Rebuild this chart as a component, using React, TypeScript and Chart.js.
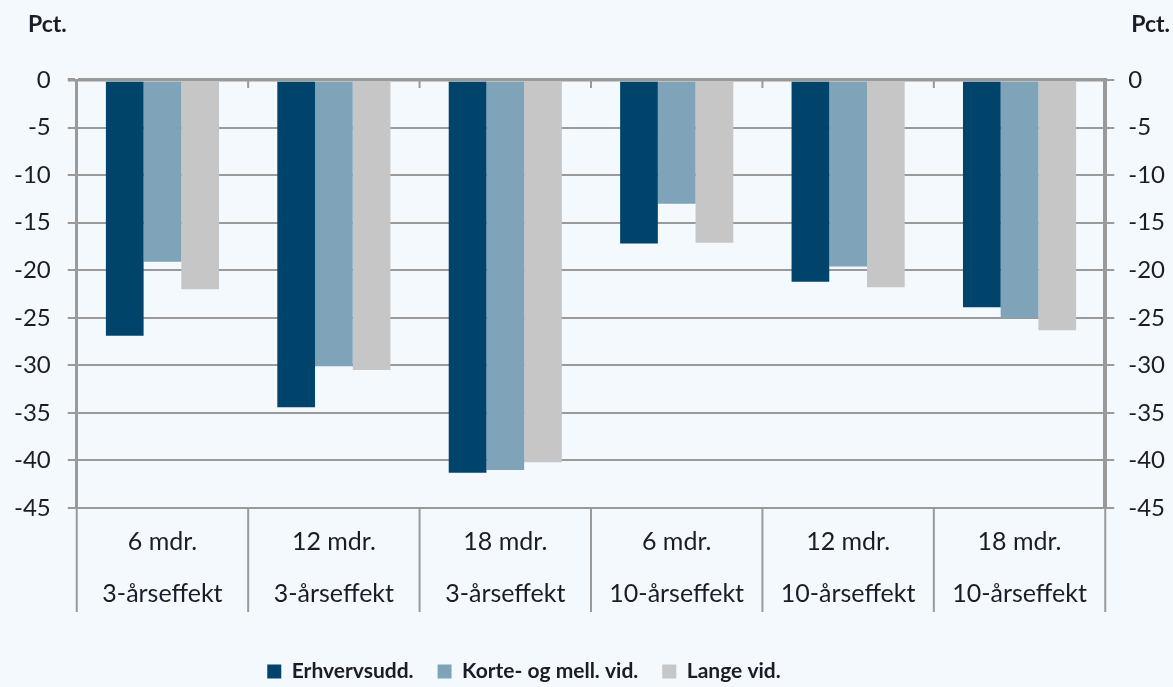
import React, { useEffect, useRef } from "react";
import { Chart, registerables } from "chart.js";

Chart.register(...registerables);

const periods = ["6 mdr.", "12 mdr.", "18 mdr.", "6 mdr.", "12 mdr.", "18 mdr."];
const effects = ["3-årseffekt", "3-årseffekt", "3-årseffekt", "10-årseffekt", "10-årseffekt", "10-årseffekt"];
const seriesNames = ["Erhvervsudd.", "Korte- og mell. vid.", "Lange vid."];
const erhvervsudd = [-26.9, -34.4, -41.3, -17.2, -21.2, -23.9];
const korteMell = [-19.1, -30.1, -41.0, -13.0, -19.6, -25.0];
const langeVid = [-22.0, -30.5, -40.2, -17.1, -21.8, -26.3];
const yMin = -45;
const yMax = 0;
const yStep = 5;
const unitLabel = "Pct.";

const BG = "#F4F9FD";
const TEXT = "#1c1c28";
const GRID = "#9a9a9a";
const FONT = "Lato, 'Open Sans', sans-serif";

const extras = {
  id: "extras",
  afterLayout(chart: any) {
    const lg = chart.legend;
    if (lg) {
      lg.left -= 64;
      lg.right -= 64;
      lg.top += 9;
      lg.bottom += 9;
    }
  },
  beforeDraw(chart: any) {
    const { ctx, width, height } = chart;
    ctx.save();
    ctx.fillStyle = BG;
    ctx.fillRect(0, 0, width, height);
    ctx.restore();
  },
  afterDraw(chart: any) {
    const { ctx, chartArea } = chart;
    const xs = chart.scales.x;
    const n = xs.getLabels().length;
    ctx.save();
    ctx.strokeStyle = GRID;
    ctx.lineWidth = 2;
    for (let i = 0; i <= n; i++) {
      let x: number;
      if (i === 0) x = chartArea.left;
      else if (i === n) x = chartArea.right;
      else x = (xs.getPixelForValue(i - 1) + xs.getPixelForValue(i)) / 2;
      ctx.beginPath();
      ctx.moveTo(x, chartArea.bottom);
      ctx.lineTo(x, chartArea.bottom + 104);
      ctx.stroke();
      if (i > 0 && i < n) {
        ctx.beginPath();
        ctx.moveTo(x, chartArea.top);
        ctx.lineTo(x, chartArea.top + 8);
        ctx.stroke();
      }
    }
    ctx.fillStyle = TEXT;
    ctx.font = `bold 23px ${FONT}`;
    ctx.textBaseline = "middle";
    ctx.textAlign = "left";
    ctx.fillText(unitLabel, 28, 25);
    ctx.textAlign = "right";
    ctx.fillText(unitLabel, chart.width - 3, 25);
    ctx.restore();
  },
};

export default function App() {
  const ref = useRef<HTMLCanvasElement | null>(null);
  useEffect(() => {
    document.body.style.margin = "0";
    document.body.style.background = BG;
    if (!ref.current) return;
    const labels = periods.map((p, i) => [p, effects[i]]);
    const yTickFont = { family: FONT, size: 24 };
    const chart = new Chart(ref.current, {
      type: "bar",
      data: {
        labels,
        datasets: [
          { label: seriesNames[0], data: erhvervsudd, backgroundColor: "#00446C", yAxisID: "y" },
          { label: seriesNames[1], data: korteMell, backgroundColor: "#7FA3B9", yAxisID: "y" },
          { label: seriesNames[2], data: langeVid, backgroundColor: "#C6C6C6", yAxisID: "y" },
        ],
      },
      options: {
        animation: false,
        responsive: true,
        maintainAspectRatio: false,
        layout: { padding: { top: 80, left: -3, right: -6, bottom: 4 } },
        datasets: { bar: { barPercentage: 1, categoryPercentage: 0.66 } },
        plugins: {
          tooltip: { enabled: false },
          legend: {
            position: "bottom",
            labels: {
              color: TEXT,
              boxWidth: 14,
              boxHeight: 14,
              padding: 24,
              font: { family: FONT, size: 21, weight: "bold" },
            },
          },
        },
        scales: {
          x: {
            grid: { display: false, drawTicks: false },
            border: { display: false },
            ticks: {
              color: TEXT,
              font: { family: FONT, size: 25, lineHeight: 52 / 25 },
              padding: 8,
              maxRotation: 0,
              autoSkip: false,
            },
          },
          y: {
            position: "left",
            min: yMin,
            max: yMax,
            grid: {
              color: GRID,
              lineWidth: (c: any) => (c.tick && c.tick.value === 0 ? 3.5 : 2),
              tickLength: 9,
            },
            border: { display: true, color: GRID, width: 3 },
            ticks: {
              color: TEXT,
              font: yTickFont,
              stepSize: yStep,
              padding: 17,
              callback: (v: any) => String(v),
            },
          },
          y2: {
            position: "right",
            min: yMin,
            max: yMax,
            grid: { drawOnChartArea: false, color: GRID, lineWidth: 2, tickLength: 9 },
            border: { display: true, color: GRID, width: 4 },
            ticks: {
              color: TEXT,
              font: yTickFont,
              stepSize: yStep,
              padding: 14,
              callback: (v: any) => String(v),
            },
          },
        },
      },
      plugins: [extras],
    } as any);
    return () => chart.destroy();
  }, []);
  return (
    <div style={{ position: "absolute", left: 0, top: 0, width: 1173, height: 687, background: BG }}>
      <canvas ref={ref} />
    </div>
  );
}
